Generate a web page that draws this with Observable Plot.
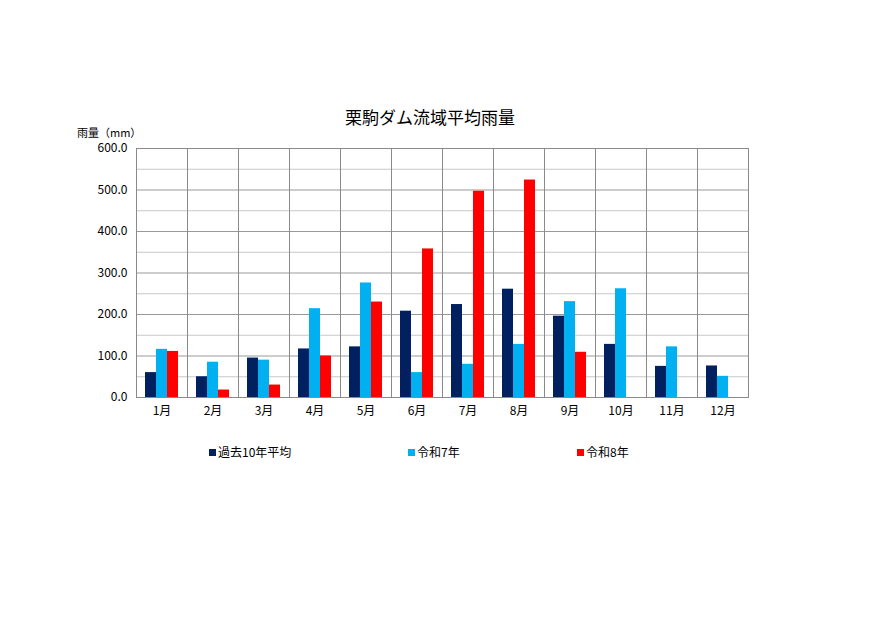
<!DOCTYPE html>
<html><head><meta charset="utf-8">
<script src="https://cdn.jsdelivr.net/npm/d3@7"></script>
<script src="https://cdn.jsdelivr.net/npm/@observablehq/plot@0.6"></script>
<style>
body{margin:0;background:#fff;font-family:"Noto Sans CJK JP","Noto Sans",sans-serif;}
#wrap{position:relative;width:890px;height:630px;overflow:hidden;}
#chart{position:absolute;left:0;top:0;}
.t{position:absolute;white-space:nowrap;color:#000;}
.lg{position:absolute;font-size:12px;white-space:nowrap;line-height:14px;}
.lg span{display:inline-block;width:7px;height:7px;margin-right:2px;vertical-align:1px;}
</style></head>
<body><div id="wrap">
<div id="chart"></div>
<div class="t" style="left:0;width:860px;top:104px;text-align:center;font-size:17px;">栗駒ダム流域平均雨量</div>
<div class="t" style="left:77px;top:126px;font-size:11px;line-height:12px;">雨量（mm）</div>
<div id="legend"></div>
</div>
<script>
const months = ["1月","2月","3月","4月","5月","6月","7月","8月","9月","10月","11月","12月"];
const seriesNames = ["過去10年平均","令和7年","令和8年"];
const seriesColors = ["#002060","#00B0F0","#FF0000"];
const avg10 = [60, 50, 95, 117, 122, 208, 224, 261, 196, 128, 75, 76];
const r7 = [116, 85, 90, 214, 276, 60, 80, 128, 231, 262, 122, 51];
const r8 = [111, 18, 30, 100, 230, 358, 497, 524, 109, null, null, null];
const majorTicks = [0, 100, 200, 300, 400, 500, 600];
const minorTicks = [50, 150, 250, 350, 450, 550];

const seriesValues = [avg10, r7, r8];
const data = [];
months.forEach((m, i) => {
  seriesNames.forEach((s, j) => {
    const v = seriesValues[j][i];
    if (v != null) data.push({month: m, series: s, value: v});
  });
});

const chart = Plot.plot({
  width: 890, height: 630,
  marginTop: 148, marginBottom: 233, marginLeft: 135, marginRight: 142,
  style: {fontFamily: '"Noto Sans CJK JP", sans-serif', fontSize: "12px", background: "white", color: "#000"},
  fx: {domain: months, padding: 0, axis: "bottom", label: null, tickSize: 0, tickPadding: 9},
  x: {domain: seriesNames, axis: null, paddingInner: 0, paddingOuter: 0.63},
  y: {domain: [0, 600], ticks: majorTicks, tickFormat: d3.format(".1f"), tickSize: 0, tickPadding: 9, label: null},
  color: {domain: seriesNames, range: seriesColors},
  marks: [
    Plot.ruleY(minorTicks, {stroke: "#c8c8c8", strokeWidth: 1}),
    Plot.ruleY(majorTicks, {stroke: "#9a9a9a", strokeWidth: 1}),
    Plot.frame({stroke: "#8a8a8a", strokeWidth: 1}),
    Plot.barY(data, {fx: "month", x: "series", y: "value", fill: "series"})
  ]
});
document.getElementById("chart").appendChild(chart);

const legend = document.getElementById("legend");
const lx = [209, 408, 577];
seriesNames.forEach((s, j) => {
  const d = document.createElement("div");
  d.className = "lg";
  d.style.left = lx[j] + "px";
  d.style.top = "445px";
  d.innerHTML = `<span style="background:${seriesColors[j]}"></span>${s}`;
  legend.appendChild(d);
});
</script>
</body></html>
